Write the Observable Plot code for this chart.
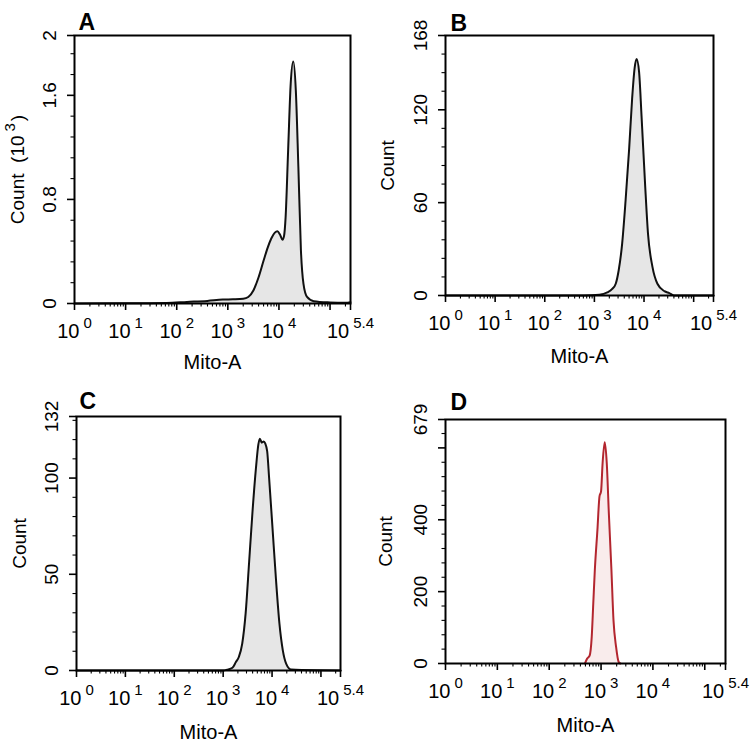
<!DOCTYPE html>
<html><head><meta charset="utf-8">
<script src="https://cdn.jsdelivr.net/npm/d3@7"></script>
<script src="https://cdn.jsdelivr.net/npm/@observablehq/plot@0.6"></script>
<style>
html,body{margin:0;padding:0;background:#fff;}
#fig{position:relative;width:750px;height:746px;font-family:"Liberation Sans",Arial,sans-serif;}
#fig svg{position:absolute;}
</style></head><body><div id="fig"></div>
<script>
// ---------- data ----------
const panelLetters = ["A", "B", "C", "D"];
const yTitles = ["Count  (10^{3})", "Count", "Count", "Count"];
const xTitle = "Mito-A";
// x axis is log10(Mito-A): tick positions are decades
const xTickExponents = [0, 1, 2, 3, 4, 5, 5.4];
const xTickLabels = ["10^{0}", "10^{1}", "10^{2}", "10^{3}", "10^{4}", "", "10^{5.4}"];

// Panel A (log10 Mito-A, count in 10^3)
const aMitoExp = [0, 1.0, 1.8, 2.2, 2.6, 2.9, 3.1, 3.3, 3.4, 3.5, 3.6, 3.7, 3.78, 3.85, 3.92, 3.97, 4.02, 4.07, 4.1, 4.13, 4.18, 4.23, 4.28, 4.33, 4.38, 4.43, 4.48, 4.55, 4.68, 5.0, 5.3, 5.4];
const aCount   = [0, 0.001, 0.004, 0.012, 0.02, 0.03, 0.032, 0.036, 0.05, 0.1, 0.2, 0.33, 0.43, 0.5, 0.545, 0.555, 0.53, 0.49, 0.52, 0.66, 1.18, 1.69, 1.86, 1.64, 1.05, 0.41, 0.15, 0.05, 0.018, 0.008, 0.005, 0.01];
// Panel B
const bMitoExp = [0, 2.8, 3.1, 3.26, 3.36, 3.43, 3.49, 3.56, 3.63, 3.70, 3.76, 3.81, 3.85, 3.9, 3.95, 4.02, 4.08, 4.17, 4.27, 4.41, 4.51, 4.61, 5.4];
const bCount   = [0, 0, 0.5, 2, 4.3, 7.6, 16.3, 33.7, 62, 94.6, 127, 146.8, 152.8, 144.6, 116, 72.8, 40, 18.5, 7.6, 2.8, 1.5, 0, 0];
// Panel C
const cMitoExp = [0, 3.0, 3.08, 3.19, 3.26, 3.32, 3.39, 3.46, 3.53, 3.6, 3.67, 3.72, 3.75, 3.79, 3.83, 3.86, 3.9, 3.94, 4.01, 4.08, 4.15, 4.22, 4.29, 4.39, 4.6, 5.4];
const cCount   = [0, 0, 0.4, 1.4, 4.4, 7, 14, 29.8, 56, 82.5, 105, 117.5, 120.5, 118.4, 119, 118, 114, 100, 73.7, 47.4, 24.6, 10.5, 3.5, 0.5, 0.2, 0];
// Panel D
const dMitoExp = [2.69, 2.73, 2.78, 2.82, 2.85, 2.88, 2.93, 2.97, 3.0, 3.03, 3.07, 3.11, 3.15, 3.2, 3.24, 3.29, 3.34, 3.37];
const dCount   = [0, 13, 22, 74, 167, 260, 372, 465, 479, 558, 616, 558, 419, 260, 120, 46, 4, 0];

// y axes
const yMax = [2.06, 168, 132, 679];
const yMajorTicks = [[0, 0.8, 1.6, 2.06], [0, 60, 120, 168], [0, 50, 100, 132], [0, 200, 400, 600, 679]];
const yMajorLabels = [["0", "0.8", "1.6", "2"], ["0", "60", "120", "168"], ["0", "50", "100", "132"], ["0", "200", "400", "", "679"]];
const yMinorStep = [0.16, 12, 10, 40];

// ---------- styles / layout ----------
const fills = ["#e6e6e6", "#e6e6e6", "#e6e6e6", "#f9ecec"];
const strokes = ["#111", "#111", "#111", "#b3262f"];
const layout = [
  {left: 0,   top: 0,   ml: 74, mr: 25, mt: 35, mb: 70, lx: 4, ly: -6,  xt: 65, yt: 64},
  {left: 375, top: 0,   ml: 70, mr: 37, mt: 35, mb: 78, lx: 5, ly: -5,  xt: 67, yt: 65},
  {left: 0,   top: 373, ml: 76, mr: 35, mt: 43, mb: 76, lx: 3, ly: -8,  xt: 68, yt: 64},
  {left: 375, top: 373, ml: 70, mr: 25, mt: 46, mb: 83, lx: 5, ly: -10, xt: 68, yt: 67}
];

const series = [[aMitoExp, aCount], [bMitoExp, bCount], [cMitoExp, cCount], [dMitoExp, dCount]];
const xEnd = 5.4;
const xMinor = [];
for (let k = 0; k <= 5; k++) for (let m = 2; m <= 9; m++) { const v = k + Math.log10(m); if (v < xEnd) xMinor.push(v); }
const xFmt = d => { const i = xTickExponents.indexOf(d); return i < 0 ? "" : xTickLabels[i]; };

const NS = "http://www.w3.org/2000/svg";
function superscripts(svg) {
  svg.querySelectorAll("text").forEach(t => {
    const s = t.textContent;
    const m = s.match(/^(.*)\^\{(.*?)\}(.*)$/);
    if (!m) return;
    const supSize = 15, shift = m[3] ? 9 : 10;
    t.textContent = "";
    t.appendChild(document.createTextNode(m[1]));
    const sup = document.createElementNS(NS, "tspan");
    sup.setAttribute("font-size", supSize);
    sup.setAttribute("dy", -shift);
    sup.setAttribute("dx", 4);
    sup.textContent = m[2];
    t.appendChild(sup);
    if (m[3]) {
      const r = document.createElementNS(NS, "tspan");
      r.setAttribute("dy", shift);
      r.setAttribute("dx", 2);
      r.textContent = m[3];
      t.appendChild(r);
    }
  });
}

const fig = document.getElementById("fig");
series.forEach(([ex, cnt], p) => {
  const L = layout[p];
  const data = ex.map((e, i) => ({x: e, y: cnt[i]}));
  const yMinor = d3.range(yMinorStep[p], yMax[p] - 1e-9, yMinorStep[p]).filter(v => !yMajorTicks[p].some(t => Math.abs(t - v) < 1e-6));
  const yFmt = d => { const i = yMajorTicks[p].indexOf(d); return i < 0 ? "" : yMajorLabels[p][i]; };
  const svg = Plot.plot({
    width: 375, height: 373,
    marginLeft: L.ml, marginRight: L.mr, marginTop: L.mt, marginBottom: L.mb,
    style: {fontFamily: "'Liberation Sans', Arial, sans-serif", background: "white", overflow: "visible"},
    x: {type: "linear", domain: [0, xEnd]},
    y: {domain: [0, yMax[p]]},
    marks: [
      Plot.areaY(data, {x: "x", y: "y", fill: fills[p], curve: "monotone-x"}),
      Plot.lineY(data, {x: "x", y: "y", stroke: strokes[p], strokeWidth: 2, curve: "monotone-x"}),
      Plot.frame({stroke: "#000", strokeWidth: 2}),
      Plot.axisX({ticks: xTickExponents, tickFormat: xFmt, tickSize: 7, tickPadding: 13, fontSize: 20, strokeWidth: 1.6, label: null}),
      Plot.axisX({ticks: xMinor, tickSize: 3.5, text: null, strokeWidth: 1.1, label: null}),
      Plot.axisY({ticks: yMajorTicks[p], tickFormat: yFmt, tickRotate: -90, tickSize: 7, tickPadding: 12, fontSize: 19, strokeWidth: 1.6, label: null}),
      Plot.axisY({ticks: yMinor, tickSize: 3.5, text: null, strokeWidth: 1.1, label: null}),
      Plot.text([panelLetters[p]], {text: d => d, frameAnchor: "top-left", dx: L.lx, dy: L.ly, textAnchor: "start", lineAnchor: "bottom", fontSize: 23, fontWeight: "bold", fill: "#000"}),
      Plot.text([xTitle], {text: d => d, frameAnchor: "bottom", dy: L.xt, lineAnchor: "bottom", textAnchor: "middle", fontSize: 20, fill: "#000"}),
      Plot.text([yTitles[p]], {text: d => d, frameAnchor: "left", dx: -L.yt, rotate: -90, lineAnchor: "top", textAnchor: "middle", fontSize: 19, fill: "#000"})
    ]
  });
  svg.style.left = L.left + "px";
  svg.style.top = L.top + "px";
  superscripts(svg);
  fig.appendChild(svg);
});
</script>
</body></html>
